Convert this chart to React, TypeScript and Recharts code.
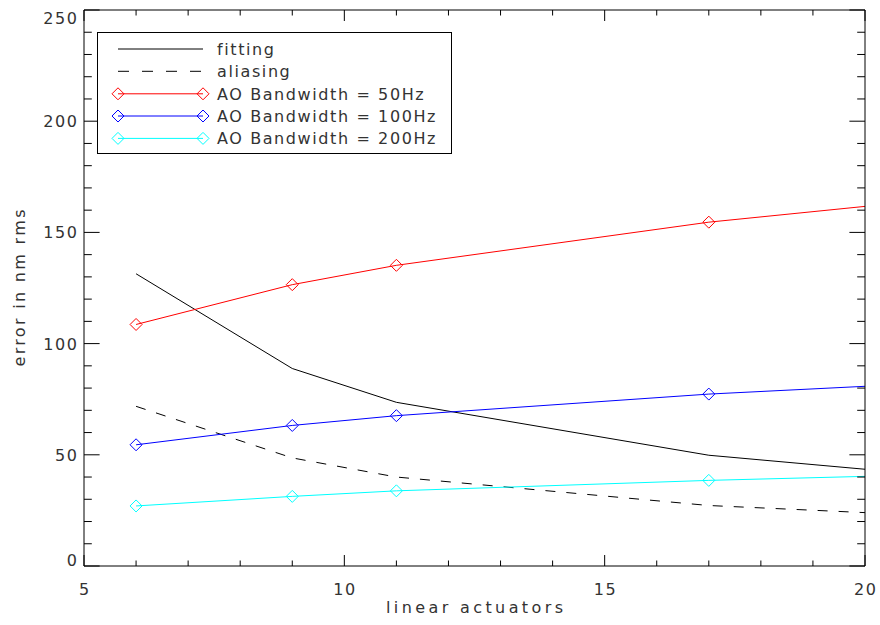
import React from 'react';
import { LineChart, Line, XAxis, YAxis, Legend, Label } from 'recharts';

// ---- data ----
const actuators = [6, 9, 11, 17, 20];
const fitting = [131.4, 88.8, 73.6, 49.8, 43.5];
const aliasing = [71.8, 48.6, 40.0, 27.2, 24.0];
const bw50 = [108.6, 126.5, 135.2, 154.6, 161.7];
const bw100 = [54.5, 63.2, 67.6, 77.3, 80.8];
const bw200 = [27.0, 31.3, 33.8, 38.5, 40.3];
const markerXs = [6, 9, 11, 17];

const xMajor = [5, 10, 15, 20];
const xTicks = [5, 6, 7, 8, 9, 10, 11, 12, 13, 14, 15, 16, 17, 18, 19, 20];
const yMajor = [0, 50, 100, 150, 200, 250];
const yTicks = [0, 10, 20, 30, 40, 50, 60, 70, 80, 90, 100, 110, 120, 130, 140, 150, 160, 170, 180, 190, 200, 210, 220, 230, 240, 250];

const xLabel = 'linear actuators';
const yLabel = 'error in nm rms';

const series = [
  { key: 'fitting', name: 'fitting', color: '#000000', dash: undefined as string | undefined, marker: false },
  { key: 'aliasing', name: 'aliasing', color: '#000000', dash: '10 11', marker: false },
  { key: 'bw50', name: 'AO Bandwidth = 50Hz', color: '#ff0000', dash: undefined, marker: true },
  { key: 'bw100', name: 'AO Bandwidth = 100Hz', color: '#0000ff', dash: undefined, marker: true },
  { key: 'bw200', name: 'AO Bandwidth = 200Hz', color: '#00ffff', dash: undefined, marker: true },
];

const rows = actuators.map((x, i) => ({
  x,
  fitting: fitting[i],
  aliasing: aliasing[i],
  bw50: bw50[i],
  bw100: bw100[i],
  bw200: bw200[i],
}));

const FONT = '"DejaVu Sans", sans-serif';
const TXT = '#333';

const BottomTick = (p: any) => {
  const { x, y, payload } = p;
  const major = xMajor.includes(payload.value);
  const len = major ? 11 : 5.5;
  return (
    <g>
      <line x1={x} x2={x} y1={y} y2={y - len} stroke="#000" strokeWidth={1} />
      {major && (
        <text x={x + 0.8} y={y + 29} textAnchor="middle" fontFamily={FONT} fontSize={16} letterSpacing={1.6} fill={TXT}>
          {payload.value}
        </text>
      )}
    </g>
  );
};

const TopTick = (p: any) => {
  const { x, y, payload } = p;
  const major = xMajor.includes(payload.value);
  const len = major ? 11 : 5.5;
  return <line x1={x} x2={x} y1={y} y2={y + len} stroke="#000" strokeWidth={1} />;
};

const LeftTick = (p: any) => {
  const { x, y, payload } = p;
  const major = yMajor.includes(payload.value);
  const len = major ? 15.6 : 7.8;
  const ly = Math.min(Math.max(y, 18), 560);
  return (
    <g>
      <line x1={x} x2={x + len} y1={y} y2={y} stroke="#000" strokeWidth={1} />
      {major && (
        <text x={x - 7 + 1.6} y={ly + 5.9} textAnchor="end" fontFamily={FONT} fontSize={16} letterSpacing={1.6} fill={TXT}>
          {payload.value}
        </text>
      )}
    </g>
  );
};

const RightTick = (p: any) => {
  const { x, y, payload } = p;
  const major = yMajor.includes(payload.value);
  const len = major ? 15.6 : 7.8;
  return <line x1={x} x2={x - len} y1={y} y2={y} stroke="#000" strokeWidth={1} />;
};

const makeDiamond = (color: string) => (p: any) => {
  const { cx, cy, payload, index } = p;
  if (!markerXs.includes(payload.x) || cx == null || cy == null) return <g key={`d-${index}`} />;
  const r = 6;
  return (
    <path
      key={`d-${index}`}
      d={`M${cx},${cy - r} L${cx + r},${cy} L${cx},${cy + r} L${cx - r},${cy} Z`}
      fill="none"
      stroke={color}
      strokeWidth={1}
    />
  );
};

const Diamond = ({ cx, cy, color }: { cx: number; cy: number; color: string }) => {
  const r = 6;
  return <path d={`M${cx},${cy - r} L${cx + r},${cy} L${cx},${cy + r} L${cx - r},${cy} Z`} fill="none" stroke={color} strokeWidth={1} />;
};

const LegendBox = () => {
  const rowY = [17, 39.3, 61.8, 84, 106.4];
  return (
    <svg width={356} height={123} style={{ display: 'block' }}>
      <rect x={0.5} y={0.5} width={354} height={121} fill="#fff" stroke="#000" strokeWidth={1} />
      {series.map((s, i) => (
        <g key={s.key}>
          <line x1={21} x2={106} y1={rowY[i]} y2={rowY[i]} stroke={s.color} strokeWidth={1} strokeDasharray={s.dash ? '11 13' : undefined} />
          {s.marker && <Diamond cx={21} cy={rowY[i]} color={s.color} />}
          {s.marker && <Diamond cx={106} cy={rowY[i]} color={s.color} />}
          <text x={120} y={rowY[i] + 5.9} fontFamily={FONT} fontSize={16} letterSpacing={1.6} fill={TXT}>
            {s.name}
          </text>
        </g>
      ))}
    </svg>
  );
};

const XTitle = (p: any) => {
  const vb = p.viewBox || { x: 84, y: 566, width: 781, height: 59 };
  const cx = vb.x + vb.width / 2;
  return (
    <text x={cx} y={vb.y + 47} textAnchor="middle" fontFamily={FONT} fontSize={16} textLength={177} lengthAdjust="spacing" fill={TXT}>
      {xLabel}
    </text>
  );
};

const YTitle = (p: any) => {
  const vb = p.viewBox || { x: 0, y: 10, width: 84, height: 556 };
  const cy = vb.y + vb.height / 2;
  const tx = 25;
  return (
    <text x={tx} y={cy} transform={`rotate(-90, ${tx}, ${cy})`} textAnchor="middle" fontFamily={FONT} fontSize={16} textLength={157} lengthAdjust="spacing" fill={TXT}>
      {yLabel}
    </text>
  );
};

export default function App() {
  return (
    <div style={{ position: 'absolute', left: 0, top: 0, width: 880, height: 625, background: '#fff' }}>
      <LineChart width={880} height={625} data={rows} margin={{ top: 9, right: 14, left: 0, bottom: 0 }}>
        <XAxis
          xAxisId="bottom"
          dataKey="x"
          type="number"
          domain={[5, 20]}
          allowDataOverflow
          ticks={xTicks}
          interval={0}
          height={59}
          tickSize={0}
          tickMargin={0}
          tickLine={false}
          axisLine={{ stroke: '#000', strokeWidth: 1 }}
          tick={BottomTick}
        >
          <Label content={XTitle} />
        </XAxis>
        <XAxis
          xAxisId="top"
          orientation="top"
          dataKey="x"
          type="number"
          domain={[5, 20]}
          allowDataOverflow
          ticks={xTicks}
          interval={0}
          height={1}
          tickSize={0}
          tickMargin={0}
          tickLine={false}
          axisLine={{ stroke: '#000', strokeWidth: 1 }}
          tick={TopTick}
        />
        <YAxis
          yAxisId="left"
          type="number"
          domain={[0, 250]}
          allowDataOverflow
          ticks={yTicks}
          interval={0}
          width={84}
          tickSize={0}
          tickMargin={0}
          tickLine={false}
          axisLine={{ stroke: '#000', strokeWidth: 1 }}
          tick={LeftTick}
        >
          <Label content={YTitle} />
        </YAxis>
        <YAxis
          yAxisId="right"
          orientation="right"
          type="number"
          domain={[0, 250]}
          allowDataOverflow
          ticks={yTicks}
          interval={0}
          width={1}
          tickSize={0}
          tickMargin={0}
          tickLine={false}
          axisLine={{ stroke: '#000', strokeWidth: 1 }}
          tick={RightTick}
        />
        {series.map((s) => (
          <Line
            key={s.key}
            xAxisId="bottom"
            yAxisId="left"
            type="linear"
            dataKey={s.key}
            name={s.name}
            stroke={s.color}
            strokeWidth={1}
            strokeDasharray={s.dash}
            dot={s.marker ? makeDiamond(s.color) : false}
            activeDot={false}
            isAnimationActive={false}
          />
        ))}
        <Legend
          layout="vertical"
          align="center"
          verticalAlign="middle"
          content={() => <LegendBox />}
          wrapperStyle={{ position: 'absolute', left: 97, top: 32, width: 356, height: 123 }}
        />
      </LineChart>
    </div>
  );
}
